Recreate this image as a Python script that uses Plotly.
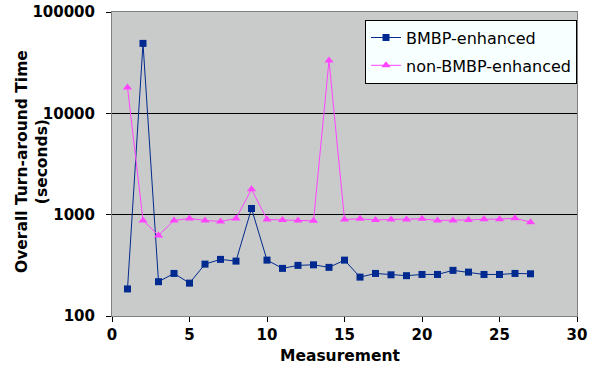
import plotly.graph_objects as go

measurements = list(range(1, 28))
bmbp_enhanced = [185, 49000, 218, 263, 211, 325, 362, 348, 1150, 356, 295, 316, 320, 302, 356,
                 242, 263, 255, 250, 257, 257, 282, 271, 257, 257, 263, 261]
non_bmbp_enhanced = [18000, 877, 624, 877, 918, 877, 857, 918, 1780, 897, 887, 877, 869, 33300, 897,
                     910, 887, 897, 897, 910, 877, 877, 887, 903, 903, 923, 844]

x_ticks = [0, 5, 10, 15, 20, 25, 30]
y_ticks = [100, 1000, 10000, 100000]
y_tick_labels = ["100", "1000", "10000", "100000"]

BLUE = "#002a8f"
PINK = "#ff44ff"

fig = go.Figure()
fig.add_trace(go.Scatter(
    x=measurements, y=bmbp_enhanced, mode="lines+markers", name="BMBP-enhanced",
    legendgroup="a",
    line=dict(color=BLUE, width=1),
    marker=dict(symbol="square", size=7, color=BLUE),
))
fig.add_trace(go.Scatter(
    x=measurements, y=non_bmbp_enhanced, mode="lines+markers", name="non-BMBP-enhanced",
    legendgroup="b",
    line=dict(color=PINK, width=1),
    marker=dict(symbol="triangle-up", size=8, color=PINK),
))

font_family = "DejaVu Sans, Verdana, sans-serif"

fig.update_layout(
    width=598, height=375,
    margin=dict(l=112, r=21, t=12, b=59, autoexpand=False),
    paper_bgcolor="white",
    plot_bgcolor="#c9caca",
    font=dict(family=font_family, color="black", size=15),
    showlegend=True,
    legend=dict(
        x=1.0, y=0.975, xanchor="right", yanchor="top",
        bgcolor="#f8ffff", bordercolor="black", borderwidth=1,
        font=dict(family=font_family, size=16, color="black"),
        tracegroupgap=4,
    ),
    xaxis=dict(
        range=[0, 30], tickvals=x_ticks, ticktext=[str(t) for t in x_ticks],
        ticks="outside", ticklen=5, tickcolor="black", showgrid=False, zeroline=False,
        showline=True, linecolor="#808080", linewidth=1, mirror=True, automargin=False,
        ticklabeloverflow="allow",
        tickfont=dict(family=font_family, size=15, color="black", weight="bold"),
    ),
    yaxis=dict(
        type="log", range=[2, 5], tickvals=y_ticks, ticktext=y_tick_labels,
        ticks="outside", ticklen=5, tickcolor="black", ticklabelstandoff=8,
        showgrid=True, gridcolor="black", gridwidth=1, zeroline=False,
        showline=True, linecolor="#808080", linewidth=1, mirror=True, automargin=False,
        ticklabeloverflow="allow",
        tickfont=dict(family=font_family, size=15, color="black", weight="bold"),
    ),
    annotations=[
        dict(text="<b>Overall Turn-around Time<br>(seconds)</b>", textangle=-90,
             xref="paper", yref="paper", x=0, y=0.5, xanchor="center", yanchor="middle",
             xshift=-80, yshift=2, showarrow=False,
             font=dict(family=font_family, size=15.5, color="black")),
        dict(text="<b>Measurement</b>",
             xref="paper", yref="paper", x=0.5, y=0, xanchor="center", yanchor="middle",
             yshift=-40, xshift=-4, showarrow=False,
             font=dict(family=font_family, size=15.5, color="black")),
    ],
)

# remove the page's default 8px body margin so the figure sits at (0, 0)
fig.write_html("out.html", config={"displayModeBar": False},
               post_script="document.body.style.margin='0';")
